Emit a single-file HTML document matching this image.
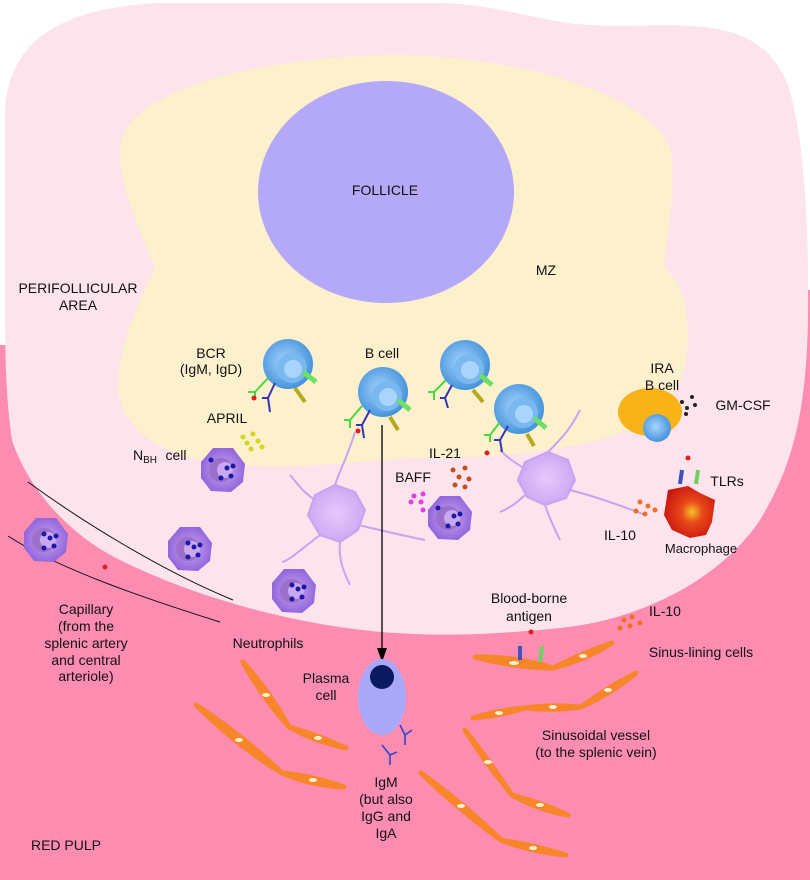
<!DOCTYPE html>
<html><head><meta charset="utf-8"><style>
html,body{margin:0;padding:0;background:#fff}
svg{display:block}
text{font-family:"Liberation Sans",sans-serif;font-size:14px;fill:#111;text-anchor:middle}
</style></head><body>
<svg width="810" height="880" viewBox="0 0 810 880" xmlns="http://www.w3.org/2000/svg">
<defs>
<radialGradient id="bc" cx="0.45" cy="0.45" r="0.6"><stop offset="0" stop-color="#a8d4ff"/><stop offset="1" stop-color="#3d8ed8"/></radialGradient>
<radialGradient id="ne" cx="0.5" cy="0.5" r="0.6"><stop offset="0" stop-color="#c9a8f0"/><stop offset="1" stop-color="#8a5ad8"/></radialGradient>
<radialGradient id="mac" cx="0.55" cy="0.5" r="0.6"><stop offset="0" stop-color="#f7c02a"/><stop offset="0.35" stop-color="#e84a1a"/><stop offset="1" stop-color="#c8100e"/></radialGradient>
<radialGradient id="dc" cx="0.5" cy="0.5" r="0.6"><stop offset="0" stop-color="#e6c8fb"/><stop offset="1" stop-color="#c9a2f2"/></radialGradient>
</defs>
<path d="M0,345 L6,345 L6,300 L810,290 L810,880 L0,880 Z" fill="#fd8db0"/>
<path d="M5,110 C10,40 60,8 160,3 L440,3 C510,5 540,25 610,26 C690,26 760,15 788,85 C805,140 809,230 808,320 C806,420 790,470 760,520 C720,580 640,620 560,628 C480,636 430,636 382,632 C300,625 200,600 120,560 C60,530 25,480 12,440 C6,400 5,360 5,300 Z" fill="#fde3eb"/>
<path d="M120,150 C120,95 240,60 380,55 C520,52 670,100 672,160 C674,220 664,250 664,267 C690,290 690,330 686,360 C680,400 650,425 600,440 C540,455 470,458 420,458 C360,460 300,470 240,465 C150,460 115,420 118,380 C120,350 130,320 155,268 C140,230 120,190 120,150 Z" fill="#fdf0cd"/>
<ellipse cx="386" cy="192" rx="128" ry="111" fill="#b4a8f8"/>
<path d="M28,482 C80,520 160,570 233,600" stroke="#111" stroke-width="1" fill="none"/>
<path d="M8,536 C60,570 150,600 220,622" stroke="#111" stroke-width="1" fill="none"/>
<g fill="url(#dc)" stroke="#c9a2f2" stroke-width="2">
<path d="M315,495 L335,485 L355,492 L365,510 L358,530 L340,542 L320,535 L308,515 Z"/>
<path d="M525,462 L548,452 L568,460 L575,480 L566,498 L545,505 L527,497 L518,480 Z"/>
</g>
<g stroke="#c9a2f2" stroke-width="2" fill="none">
<path d="M335,485 C340,470 350,450 355,432"/><path d="M315,500 C300,490 295,480 290,475"/><path d="M358,525 C380,530 400,535 425,540"/><path d="M320,535 C300,550 290,560 282,562"/><path d="M340,542 C338,560 345,575 350,585"/>
<path d="M548,452 C560,440 570,430 580,410"/><path d="M527,470 C510,460 505,455 500,450"/><path d="M570,490 C590,495 620,505 645,515"/><path d="M545,505 C550,520 555,530 560,540"/><path d="M525,495 C515,505 505,510 500,512"/>
</g>
<g>
<circle cx="288" cy="364" r="25" fill="url(#bc)"/><circle cx="292" cy="368" r="15" fill="#7ab8f0"/><circle cx="293" cy="369" r="9" fill="#a8d4ff"/>
<circle cx="383" cy="392" r="25" fill="url(#bc)"/><circle cx="387" cy="396" r="15" fill="#7ab8f0"/><circle cx="388" cy="397" r="9" fill="#a8d4ff"/>
<circle cx="465" cy="365" r="25" fill="url(#bc)"/><circle cx="469" cy="369" r="15" fill="#7ab8f0"/><circle cx="470" cy="370" r="9" fill="#a8d4ff"/>
<circle cx="519" cy="409" r="25" fill="url(#bc)"/><circle cx="523" cy="413" r="15" fill="#7ab8f0"/><circle cx="524" cy="414" r="9" fill="#a8d4ff"/>
</g>
<g fill="none" stroke-width="2">
<path d="M268,378 L255,392 M255,392 L248,392 M255,392 L255,400" stroke="#4cd640"/>
<path d="M275,383 L268,398 L270,412 M268,398 L262,398" stroke="#3333bb"/>
<path d="M362,406 L350,420 M350,420 L344,420 M350,420 L350,428" stroke="#4cd640"/>
<path d="M370,410 L362,425 L364,438 M362,425 L356,425" stroke="#3333bb"/>
<path d="M446,380 L434,392 M434,392 L428,392 M434,392 L434,400" stroke="#4cd640"/>
<path d="M452,385 L445,398 L448,408 M445,398 L440,398" stroke="#3333bb"/>
<path d="M500,422 L490,435 M490,435 L484,435 M490,435 L490,442" stroke="#4cd640"/>
<path d="M508,426 L500,440 L502,452 M500,440 L494,440" stroke="#3333bb"/>
<path d="M303,372 L316,382" stroke="#6ce060" stroke-width="5"/>
<path d="M398,400 L410,410" stroke="#6ce060" stroke-width="5"/>
<path d="M480,375 L492,385" stroke="#6ce060" stroke-width="5"/>
<path d="M534,418 L546,428" stroke="#6ce060" stroke-width="5"/>
<path d="M295,388 L305,402" stroke="#b8a820" stroke-width="4"/>
<path d="M390,417 L398,430" stroke="#b8a820" stroke-width="4"/>
<path d="M473,390 L483,402" stroke="#b8a820" stroke-width="4"/>
<path d="M527,434 L534,446" stroke="#b8a820" stroke-width="4"/>
</g>
<g fill="#e02020"><circle cx="254" cy="398" r="2.5"/><circle cx="358" cy="431" r="2.5"/><circle cx="487" cy="453" r="2.5"/><circle cx="688" cy="458" r="2.5"/><circle cx="531" cy="632" r="2.5"/><circle cx="105" cy="567" r="2.5"/></g>
<ellipse cx="650" cy="412" rx="32" ry="24" fill="#f7b317"/>
<circle cx="657" cy="428" r="14" fill="url(#bc)"/>
<g fill="#222"><circle cx="682" cy="402" r="2"/><circle cx="692" cy="397" r="2"/><circle cx="687" cy="408" r="2"/><circle cx="695" cy="405" r="2"/><circle cx="686" cy="414" r="2"/></g>
<g fill="#d6d61a"><circle cx="243" cy="437" r="2.5"/><circle cx="253" cy="434" r="2.5"/><circle cx="247" cy="443" r="2.5"/><circle cx="258" cy="441" r="2.5"/><circle cx="251" cy="449" r="2.5"/><circle cx="262" cy="447" r="2.5"/></g>
<g fill="#c05020"><circle cx="453" cy="470" r="2.5"/><circle cx="465" cy="468" r="2.5"/><circle cx="459" cy="477" r="2.5"/><circle cx="469" cy="479" r="2.5"/><circle cx="455" cy="485" r="2.5"/><circle cx="465" cy="487" r="2.5"/></g>
<g fill="#e040e0"><circle cx="414" cy="496" r="2.5"/><circle cx="423" cy="494" r="2.5"/><circle cx="411" cy="502" r="2.5"/><circle cx="421" cy="502" r="2.5"/><circle cx="423" cy="510" r="2.5"/></g>
<g fill="#f07020"><circle cx="640" cy="502" r="2.5"/><circle cx="648" cy="506" r="2.5"/><circle cx="636" cy="511" r="2.5"/><circle cx="645" cy="514" r="2.5"/><circle cx="655" cy="510" r="2.5"/>
<circle cx="624" cy="620" r="2.5"/><circle cx="632" cy="617" r="2.5"/><circle cx="620" cy="628" r="2.5"/><circle cx="630" cy="626" r="2.5"/><circle cx="640" cy="623" r="2.5"/></g>
<path d="M668,490 L688,486 L700,493 L715,500 L712,522 L706,535 L690,538 L672,530 L664,515 Z" fill="url(#mac)"/>
<path d="M680,484 L682,470" stroke="#4050c0" stroke-width="4"/><path d="M696,484 L698,470" stroke="#70d060" stroke-width="4"/>
<g>
<g transform="translate(223,470)"><path d="M-22,-8 L-10,-22 L10,-22 L22,-6 L20,12 L8,22 L-12,21 L-22,8 Z" fill="url(#ne)"/><circle cx="-2" cy="0" r="12" fill="#9a70c8"/><circle cx="2" cy="0" r="8" fill="#c9a8f0"/><g fill="#1a1aa8"><circle cx="-12" cy="-10" r="2.5"/><circle cx="4" cy="-2" r="2.5"/><circle cx="10" cy="-4" r="2.5"/><circle cx="8" cy="6" r="2.5"/><circle cx="-2" cy="8" r="2.5"/></g></g>
<g transform="translate(450,518)"><path d="M-22,-8 L-10,-22 L10,-22 L22,-6 L20,12 L8,22 L-12,21 L-22,8 Z" fill="url(#ne)"/><circle cx="-2" cy="0" r="12" fill="#9a70c8"/><circle cx="2" cy="0" r="8" fill="#c9a8f0"/><g fill="#1a1aa8"><circle cx="-12" cy="-10" r="2.5"/><circle cx="4" cy="-2" r="2.5"/><circle cx="10" cy="-4" r="2.5"/><circle cx="8" cy="6" r="2.5"/><circle cx="-2" cy="8" r="2.5"/></g></g>
<g transform="translate(46,540)"><path d="M-22,-8 L-10,-22 L10,-22 L22,-6 L20,12 L8,22 L-12,21 L-22,8 Z" fill="url(#ne)"/><circle cx="-2" cy="0" r="12" fill="#9a70c8"/><circle cx="2" cy="0" r="8" fill="#c9a8f0"/><g fill="#1a1aa8"><circle cx="-2" cy="-6" r="2.5"/><circle cx="4" cy="-2" r="2.5"/><circle cx="10" cy="-4" r="2.5"/><circle cx="8" cy="6" r="2.5"/><circle cx="-2" cy="8" r="2.5"/></g></g>
<g transform="translate(190,549)"><path d="M-22,-8 L-10,-22 L10,-22 L22,-6 L20,12 L8,22 L-12,21 L-22,8 Z" fill="url(#ne)"/><circle cx="-2" cy="0" r="12" fill="#9a70c8"/><circle cx="2" cy="0" r="8" fill="#c9a8f0"/><g fill="#1a1aa8"><circle cx="-2" cy="-6" r="2.5"/><circle cx="4" cy="-2" r="2.5"/><circle cx="10" cy="-4" r="2.5"/><circle cx="8" cy="6" r="2.5"/><circle cx="-2" cy="8" r="2.5"/></g></g>
<g transform="translate(294,591)"><path d="M-22,-8 L-10,-22 L10,-22 L22,-6 L20,12 L8,22 L-12,21 L-22,8 Z" fill="url(#ne)"/><circle cx="-2" cy="0" r="12" fill="#9a70c8"/><circle cx="2" cy="0" r="8" fill="#c9a8f0"/><g fill="#1a1aa8"><circle cx="-2" cy="-6" r="2.5"/><circle cx="4" cy="-2" r="2.5"/><circle cx="10" cy="-4" r="2.5"/><circle cx="8" cy="6" r="2.5"/><circle cx="-2" cy="8" r="2.5"/></g></g>
</g>
<line x1="382" y1="425" x2="382" y2="650" stroke="#000" stroke-width="1.3"/>
<polygon points="377,648 387,648 382,662" fill="#000"/>
<ellipse cx="382" cy="697" rx="24" ry="38" fill="#a9a8f8"/>
<ellipse cx="382" cy="677" rx="12" ry="12" fill="#0a1a60"/>
<g stroke="#3344cc" stroke-width="1.6" fill="none"><path d="M400,725 L405,735 L405,745 M405,735 L412,730"/><path d="M382,745 L390,755 L390,765 M390,755 L397,752"/></g>
<g fill="#f7862a">
<path d="M475,657 Q515,656 553,668 Q515,668 475,657Z" stroke="#f7862a" stroke-width="5" stroke-linejoin="round"/>
<path d="M553,668 Q585,652 612,643 Q585,660 553,668Z" stroke="#f7862a" stroke-width="5" stroke-linejoin="round"/>
<path d="M243,662 Q270,692 289,727 Q262,697 243,662Z" stroke="#f7862a" stroke-width="5" stroke-linejoin="round"/>
<path d="M289,727 Q318,735 346,748 Q316,742 289,727Z" stroke="#f7862a" stroke-width="5" stroke-linejoin="round"/>
<path d="M196,705 Q242,735 282,773 Q236,745 196,705Z" stroke="#f7862a" stroke-width="5" stroke-linejoin="round"/>
<path d="M282,773 Q313,776 344,787 Q312,786 282,773Z" stroke="#f7862a" stroke-width="5" stroke-linejoin="round"/>
<path d="M473,718 Q499,710 525,708 Q499,716 473,718Z" stroke="#f7862a" stroke-width="5" stroke-linejoin="round"/>
<path d="M525,708 Q553,704 581,707 Q553,711 525,708Z" stroke="#f7862a" stroke-width="5" stroke-linejoin="round"/>
<path d="M581,707 Q610,686 636,673 Q610,694 581,707Z" stroke="#f7862a" stroke-width="5" stroke-linejoin="round"/>
<path d="M465,730 Q490,762 512,795 Q487,765 465,730Z" stroke="#f7862a" stroke-width="5" stroke-linejoin="round"/>
<path d="M512,795 Q540,802 568,815 Q538,810 512,795Z" stroke="#f7862a" stroke-width="5" stroke-linejoin="round"/>
<path d="M421,773 Q463,803 501,840 Q459,810 421,773Z" stroke="#f7862a" stroke-width="5" stroke-linejoin="round"/>
<path d="M501,840 Q533,845 566,855 Q532,852 501,840Z" stroke="#f7862a" stroke-width="5" stroke-linejoin="round"/>
</g>
<g fill="#fff2d0"><ellipse cx="514" cy="663" rx="5" ry="2"/><ellipse cx="583" cy="656" rx="4" ry="2"/><ellipse cx="266" cy="695" rx="4" ry="2"/><ellipse cx="318" cy="738" rx="4" ry="2"/><ellipse cx="239" cy="740" rx="4" ry="2"/><ellipse cx="313" cy="780" rx="4" ry="2"/><ellipse cx="499" cy="713" rx="4" ry="2"/><ellipse cx="553" cy="707" rx="4" ry="2"/><ellipse cx="608" cy="690" rx="4" ry="2"/><ellipse cx="488" cy="762" rx="4" ry="2"/><ellipse cx="540" cy="805" rx="4" ry="2"/><ellipse cx="461" cy="806" rx="4" ry="2"/><ellipse cx="533" cy="848" rx="4" ry="2"/></g>
<path d="M520,660 L520,646" stroke="#4050c0" stroke-width="4"/><path d="M540,662 L542,646" stroke="#70d060" stroke-width="4"/>
<text x="385" y="195">FOLLICLE</text>
<text x="546" y="275">MZ</text>
<text x="78" y="293">PERIFOLLICULAR</text>
<text x="78" y="310">AREA</text>
<text x="211" y="358">BCR</text>
<text x="211" y="374">(IgM,  IgD)</text>
<text x="382" y="358">B  cell</text>
<text x="227" y="423">APRIL</text>
<text x="662" y="373">IRA</text>
<text x="662" y="390">B  cell</text>
<text x="743" y="410">GM-CSF</text>
<text x="157" y="460" style="text-anchor:end">N<tspan font-size="10" dy="3">BH</tspan></text>
<text x="176" y="460">cell</text>
<text x="445" y="458">IL-21</text>
<text x="413" y="482">BAFF</text>
<text x="727" y="486">TLRs</text>
<text x="620" y="540">IL-10</text>
<text x="701" y="553" style="font-size:13px">Macrophage</text>
<text x="86" y="614">Capillary</text>
<text x="86" y="631">(from  the</text>
<text x="86" y="648">splenic  artery</text>
<text x="86" y="665">and  central</text>
<text x="86" y="681">arteriole)</text>
<text x="268" y="648">Neutrophils</text>
<text x="529" y="603">Blood-borne</text>
<text x="529" y="621">antigen</text>
<text x="665" y="616">IL-10</text>
<text x="701" y="657">Sinus-lining  cells</text>
<text x="326" y="683">Plasma</text>
<text x="326" y="700">cell</text>
<text x="596" y="740">Sinusoidal  vessel</text>
<text x="596" y="757">(to  the  splenic  vein)</text>
<text x="386" y="787">IgM</text>
<text x="386" y="804">(but  also</text>
<text x="386" y="821">IgG  and</text>
<text x="386" y="838">IgA</text>
<text x="66" y="850">RED  PULP</text>
</svg>
</body></html>
